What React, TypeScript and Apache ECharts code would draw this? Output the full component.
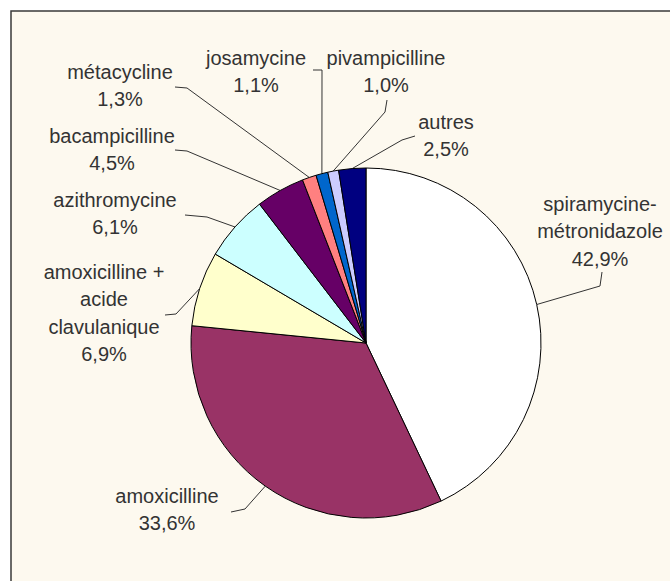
import React, { useEffect, useRef } from "react";
import * as echarts from "echarts";

const names = [
  "spiramycine-\nmétronidazole",
  "amoxicilline",
  "amoxicilline +\nacide\nclavulanique",
  "azithromycine",
  "bacampicilline",
  "métacycline",
  "josamycine",
  "pivampicilline",
  "autres",
];
const values = [42.9, 33.6, 6.9, 6.1, 4.5, 1.3, 1.1, 1.0, 2.5];
const colors = [
  "#FFFFFF",
  "#993366",
  "#FFFFCC",
  "#CCFFFF",
  "#660066",
  "#FF8080",
  "#0066CC",
  "#CCCCFF",
  "#000080",
];

// label placement (center x, top y) and leader line elbow / end points
const labelPlacement = [
  { x: 600, y: 190, elbow: [600, 286], end: [602, 272] },
  { x: 167, y: 482, elbow: [245, 509], end: [231, 512] },
  { x: 104, y: 258, elbow: [176, 314], end: [165, 315] },
  { x: 115, y: 186, elbow: [207, 217], end: [185, 215] },
  { x: 112, y: 122, elbow: [187, 151], end: [175, 150] },
  { x: 120, y: 58, elbow: [187, 88], end: [175, 87] },
  { x: 256, y: 44, elbow: [322, 70], end: [313, 70] },
  { x: 386, y: 44, elbow: [385, 112], end: [387, 100] },
  { x: 446, y: 108, elbow: [402, 140], end: [415, 136] },
];

export default function App() {
  const ref = useRef<HTMLDivElement>(null);
  useEffect(() => {
    if (!ref.current) return;
    const chart = echarts.init(ref.current, undefined, { renderer: "svg" });
    chart.setOption({
      animation: false,
      backgroundColor: "#FFFFFF",
      graphic: [
        {
          type: "rect",
          z: 0,
          silent: true,
          shape: { x: 11, y: 11, width: 700, height: 620 },
          style: { fill: "#FDF9EF", stroke: "#3a3a3a", lineWidth: 1.5 },
        },
      ],
      series: [
        {
          type: "pie",
          z: 2,
          center: [366, 343],
          radius: 175,
          startAngle: 90,
          clockwise: true,
          avoidLabelOverlap: false,
          data: names.map((n, i) => ({
            name: n,
            value: values[i],
            itemStyle: { color: colors[i] },
          })),
          itemStyle: { borderColor: "#000000", borderWidth: 1 },
          label: {
            show: true,
            fontFamily: "Liberation Sans, Arial, sans-serif",
            fontSize: 20,
            lineHeight: 27.5,
            color: "#333333",
            align: "center",
            formatter: (p: any) =>
              p.name + "\n" + Number(p.value).toFixed(1).replace(".", ",") + "%",
          },
          labelLine: {
            show: true,
            lineStyle: { color: "#333333", width: 1 },
          },
          labelLayout: (params: any) => {
            const L = labelPlacement[params.dataIndex];
            const start = params.labelLinePoints
              ? params.labelLinePoints[0]
              : L.elbow;
            return {
              x: L.x,
              y: L.y,
              align: "center",
              verticalAlign: "top",
              labelLinePoints: [start, L.elbow, L.end],
            };
          },
          emphasis: { disabled: true },
        },
      ],
    });
    return () => chart.dispose();
  }, []);
  return (
    <div
      ref={ref}
      style={{ position: "fixed", left: 0, top: 0, width: 670, height: 581 }}
    />
  );
}
